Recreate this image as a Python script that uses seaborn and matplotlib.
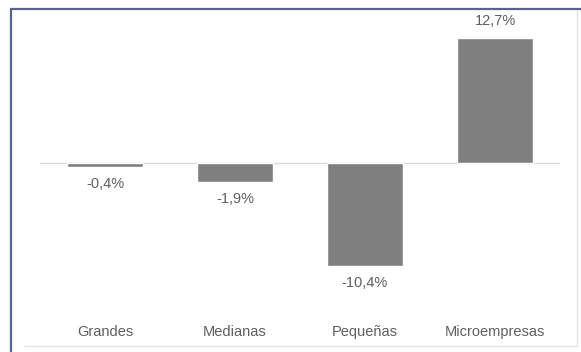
import matplotlib
matplotlib.use("Agg")
import matplotlib.pyplot as plt
from matplotlib.lines import Line2D
import seaborn as sns
import pandas as pd

# Variation by company size (%)
categories = ["Grandes", "Medianas", "Pequeñas", "Microempresas"]
values = [-0.4, -1.9, -10.4, 12.7]

sns.set_theme(style="white")
plt.rcParams["font.family"] = ["Liberation Sans", "DejaVu Sans"]

W, H = 581, 352
fig = plt.figure(figsize=(W / 100, H / 100), dpi=100)
fig.patch.set_facecolor("white")

# axes placement in pixels: x 40..560, y 20..290 (from top)
ax = fig.add_axes([40 / W, 1 - 290 / H, 520 / W, 270 / H])

df = pd.DataFrame({"categoria": categories, "valor": values})
sns.barplot(data=df, x="categoria", y="valor", color="#7f7f7f",
            saturation=1, width=0.577, ax=ax)

ax.set_xlim(-0.5, 3.5)
ax.set_ylim(-12.8, 14.5)
ax.axhline(0, color="#d9d9d9", linewidth=1.0, zorder=0)

text_color = "#5f5f5f"
for i, v in enumerate(values):
    label = f"{v:.1f}".replace(".", ",") + "%"
    off = 17 if v >= 0 else -17
    ax.annotate(label, xy=(i, v), xytext=(0, off), textcoords="offset pixels",
                ha="center", va="center", fontsize=10.5, color=text_color)

for s in ax.spines.values():
    s.set_visible(False)
ax.set_yticks([])
ax.set_xlabel("")
ax.set_ylabel("")
ax.tick_params(axis="x", length=0, pad=25, labelsize=10.5, labelcolor=text_color)


def px_line(x0, y0, x1, y1, color, lw):
    fig.add_artist(Line2D([x0 / W, x1 / W], [1 - y0 / H, 1 - y1 / H],
                          transform=fig.transFigure, color=color,
                          linewidth=lw, solid_capstyle="butt"))


# chart-area border (light gray, right and bottom)
px_line(24, 346, 577, 346, "#e3e3e3", 1.0)
px_line(577, 9, 577, 346, "#e3e3e3", 1.0)
# outer frame (blue-gray, top and left)
px_line(10, 9, W, 9, "#55658f", 1.6)
px_line(11, 9, 11, H, "#55658f", 1.6)

fig.savefig("out.png", dpi=100, facecolor="white")
